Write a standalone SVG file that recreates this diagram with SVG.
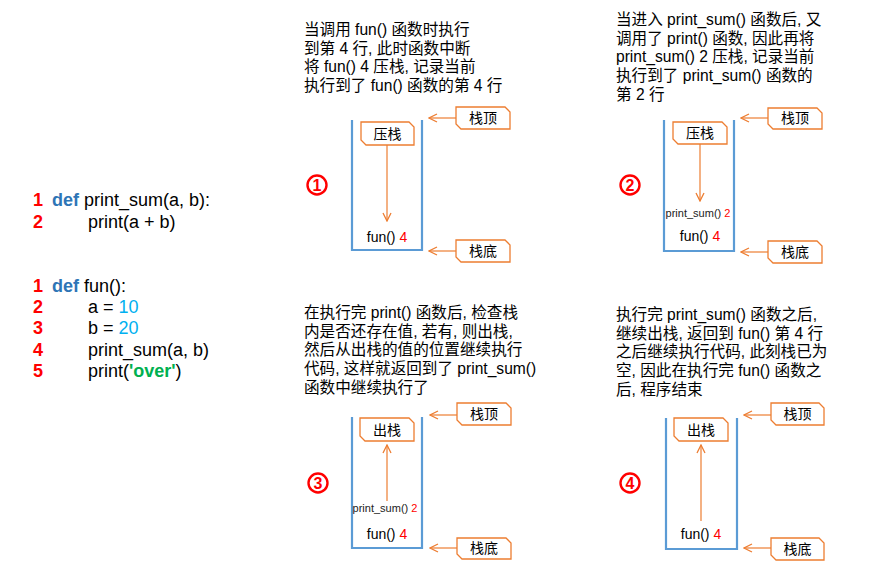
<svg xmlns="http://www.w3.org/2000/svg" width="881" height="573" viewBox="0 0 881 573">
<defs>
<style>
.t{font-family:"Liberation Sans","Noto Sans CJK SC",sans-serif;fill:#000}
.desc{font-size:15.6px}
.code{font-size:18px}
.num{font-weight:bold;fill:#FF0000}
.kw{font-weight:bold;fill:#2E75B6}
.lit{fill:#00B0F0}
.str{font-weight:bold;fill:#00B050}
.red{fill:#FF0000}
.stack{fill:none;stroke:#5B9BD5;stroke-width:2.2}
.call{fill:#fff;stroke:#ED7D31;stroke-width:1.3}
.arr{fill:none;stroke:#ED7D31;stroke-width:1.2;marker-end:url(#ah)}
.lbl{font-size:14px;text-anchor:middle}
.fn{font-size:14px;text-anchor:middle}
.ps{font-size:11px;text-anchor:middle;fill:#222}
.circ{fill:#fff;stroke:#FF0000;stroke-width:2.4}
.cnum{font-family:"Liberation Sans",sans-serif;font-size:16px;font-weight:bold;fill:#FF0000;text-anchor:middle}
</style>
<marker id="ah" viewBox="0 0 10 10" refX="9" refY="5" markerWidth="10" markerHeight="10" markerUnits="userSpaceOnUse" orient="auto">
<path d="M1,1 L9,5 L1,9" fill="none" stroke="#ED7D31" stroke-width="1.3"/>
</marker>
</defs>
<rect width="881" height="573" fill="#fff"/>

<g id="code">
<text class="t code" x="33" y="206"><tspan class="num">1</tspan><tspan class="kw" x="52">def</tspan> print_sum(a, b):</text>
<text class="t code" x="33" y="228"><tspan class="num">2</tspan><tspan x="88">print(a + b)</tspan></text>
<text class="t code" x="33" y="292"><tspan class="num">1</tspan><tspan class="kw" x="52">def</tspan> fun():</text>
<text class="t code" x="33" y="313"><tspan class="num">2</tspan><tspan x="88">a = </tspan><tspan class="lit">10</tspan></text>
<text class="t code" x="33" y="334"><tspan class="num">3</tspan><tspan x="88">b = </tspan><tspan class="lit">20</tspan></text>
<text class="t code" x="33" y="356"><tspan class="num">4</tspan><tspan x="88">print_sum(a, b)</tspan></text>
<text class="t code" x="33" y="377"><tspan class="num">5</tspan><tspan x="88">print(</tspan><tspan class="str">'over'</tspan>)</text>
</g>

<!-- Panel 1 -->
<g id="panel1">
<text class="t desc" x="304" y="35">当调用 fun() 函数时执行</text>
<text class="t desc" x="304" y="54">到第 4 行, 此时函数中断</text>
<text class="t desc" x="304" y="72">将 fun() 4 压栈, 记录当前</text>
<text class="t desc" x="304" y="91">执行到了 fun() 函数的第 4 行</text>
<circle class="circ" cx="317" cy="185" r="9.5"/>
<text class="cnum" x="317" y="190.5">1</text>
<path class="stack" d="M352,120 V250 H422 V120"/>
<path class="call" d="M361,122 H409 L414,127 V145 H366 L361,140 Z"/>
<text class="t lbl" x="387.5" y="139">压栈</text>
<text class="t fn" x="387" y="242">fun() <tspan class="red">4</tspan></text>
<path class="call" d="M456,107 H505 L510,112 V129 H461 L456,124 Z"/>
<text class="t lbl" x="483" y="123">栈顶</text>
<path class="call" d="M456,240 H505 L510,245 V262 H461 L456,257 Z"/>
<text class="t lbl" x="483" y="256">栈底</text>
</g>

<!-- Panel 2 -->
<g id="panel2">
<text class="t desc" x="616" y="25">当进入 print_sum() 函数后, 又</text>
<text class="t desc" x="616" y="44">调用了 print() 函数, 因此再将</text>
<text class="t desc" x="616" y="62">print_sum() 2 压栈, 记录当前</text>
<text class="t desc" x="616" y="81">执行到了 print_sum() 函数的</text>
<text class="t desc" x="616" y="100">第 2 行</text>
<circle class="circ" cx="630" cy="185" r="9.5"/>
<text class="cnum" x="630" y="190.5">2</text>
<path class="stack" d="M664,120 V251 H734 V120"/>
<path class="call" d="M673,122 H722 L727,127 V144 H678 L673,139 Z"/>
<text class="t lbl" x="700" y="138">压栈</text>
<text class="t ps" x="698" y="217">print_sum() <tspan class="red">2</tspan></text>
<text class="t fn" x="700" y="241">fun() <tspan class="red">4</tspan></text>
<path class="call" d="M768,108 H817 L822,113 V129 H773 L768,124 Z"/>
<text class="t lbl" x="795" y="123">栈顶</text>
<path class="call" d="M768,241 H817 L822,246 V263 H773 L768,258 Z"/>
<text class="t lbl" x="795" y="257">栈底</text>
</g>

<!-- Panel 3 -->
<g id="panel3">
<text class="t desc" x="304" y="318">在执行完 print() 函数后, 检查栈</text>
<text class="t desc" x="304" y="337">内是否还存在值, 若有, 则出栈,</text>
<text class="t desc" x="304" y="355">然后从出栈的值的位置继续执行</text>
<text class="t desc" x="304" y="374">代码, 这样就返回到了 print_sum()</text>
<text class="t desc" x="304" y="393">函数中继续执行了</text>
<circle class="circ" cx="318" cy="483" r="9.5"/>
<text class="cnum" x="318" y="488.5">3</text>
<path class="stack" d="M352,417 V548 H422 V417"/>
<path class="call" d="M360,418 H409 L414,423 V441 H365 L360,436 Z"/>
<text class="t lbl" x="387" y="435">出栈</text>
<text class="t ps" x="385" y="512">print_sum() <tspan class="red">2</tspan></text>
<text class="t fn" x="387" y="539">fun() <tspan class="red">4</tspan></text>
<path class="call" d="M457,403 H506 L511,408 V425 H462 L457,420 Z"/>
<text class="t lbl" x="484" y="419">栈顶</text>
<path class="call" d="M457,538 H506 L511,543 V559 H462 L457,554 Z"/>
<text class="t lbl" x="484" y="553">栈底</text>
</g>

<!-- Panel 4 -->
<g id="panel4">
<text class="t desc" x="616" y="320">执行完 print_sum() 函数之后,</text>
<text class="t desc" x="616" y="339">继续出栈, 返回到 fun() 第 4 行</text>
<text class="t desc" x="616" y="357">之后继续执行代码, 此刻栈已为</text>
<text class="t desc" x="616" y="376">空, 因此在执行完 fun() 函数之</text>
<text class="t desc" x="616" y="395">后, 程序结束</text>
<circle class="circ" cx="630" cy="483" r="9.5"/>
<text class="cnum" x="630" y="488.5">4</text>
<path class="stack" d="M666,418 V549 H737 V418"/>
<path class="call" d="M674,418 H723 L728,423 V441 H679 L674,436 Z"/>
<text class="t lbl" x="701" y="435">出栈</text>
<text class="t fn" x="701" y="539">fun() <tspan class="red">4</tspan></text>
<path class="call" d="M771,403 H819 L824,408 V425 H776 L771,420 Z"/>
<text class="t lbl" x="797.5" y="419">栈顶</text>
<path class="call" d="M771,538 H819 L824,543 V560 H776 L771,555 Z"/>
<text class="t lbl" x="797.5" y="554">栈底</text>
</g>

<g id="connectors">
<path class="arr" d="M387,145 V221"/>
<path class="arr" d="M456,118 H429"/>
<path class="arr" d="M456,251 H429"/>
<path class="arr" d="M700,144 V201"/>
<path class="arr" d="M768,118 H741"/>
<path class="arr" d="M768,252 H741"/>
<path class="arr" d="M387,501 V445"/>
<path class="arr" d="M457,415 H430"/>
<path class="arr" d="M457,548 H430"/>
<path class="arr" d="M701,521 V445"/>
<path class="arr" d="M771,415 H744"/>
<path class="arr" d="M771,548 H744"/>
</g>
</svg>
